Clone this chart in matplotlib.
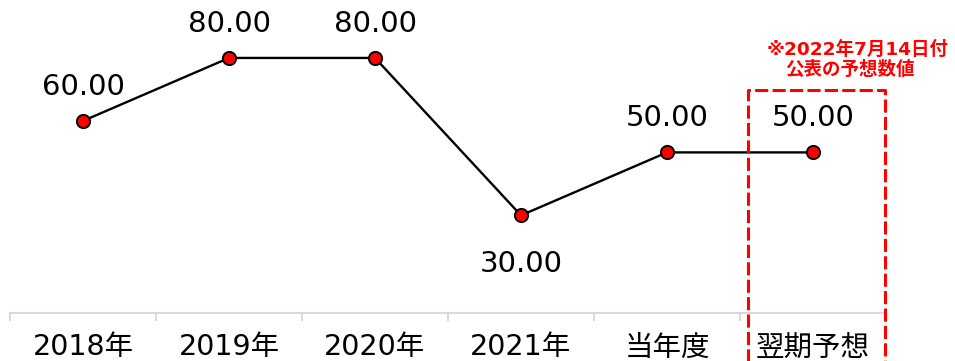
import matplotlib
matplotlib.use('Agg')
import matplotlib.pyplot as plt

# Dados do gráfico
categorias = ['2018年', '2019年', '2020年', '2021年', '当年度', '翌期予想']
valores = [60.00, 80.00, 80.00, 30.00, 50.00, 50.00]
# posição do rótulo: acima (1) ou abaixo (-1) do ponto
posicao_rotulo = [1, 1, 1, -1, 1, 1]
nota_linha1 = '※2022年7月14日付'
nota_linha2 = '公表の予想数値'

plt.rcParams['font.family'] = ['DejaVu Sans', 'Noto Sans CJK JP']

fig = plt.figure(figsize=(9.55, 3.61), dpi=100)
ax = fig.add_axes([10 / 955, 48 / 361, 876 / 955, 313 / 361])

x = list(range(len(categorias)))
ax.plot(x, valores, color='black', lw=1.7, marker='o', markersize=9.5,
        markerfacecolor='#ff0000', markeredgecolor='black', markeredgewidth=1.4, zorder=3)

# rótulos de valor
for xi, v, p in zip(x, valores, posicao_rotulo):
    dy = 18.7 if p > 0 else -41
    ax.annotate(f'{v:.2f}', (xi, v), xytext=(0, dy), textcoords='offset points',
                ha='center', va='baseline', fontsize=21, color='black')

ax.set_xlim(-0.5, len(categorias) - 0.5)
ax.set_ylim(-1, 98.4)

for s in ['top', 'right', 'left']:
    ax.spines[s].set_visible(False)
ax.spines['bottom'].set_color('#d9d9d9')
ax.spines['bottom'].set_linewidth(1.5)
ax.set_yticks([])

# rótulos das categorias
ax.set_xticks([])
for xi, c in zip(x, categorias):
    ax.annotate(c, (xi, 0), xycoords=('data', 'axes fraction'), xytext=(0, -30.5),
                textcoords='offset points', ha='center', va='baseline', fontsize=20.5)
ax.set_xticks([i - 0.5 for i in range(len(categorias) + 1)], minor=True)
ax.tick_params(axis='x', which='minor', length=6, width=1.5, color='#d9d9d9')

# caixa tracejada vermelha no último período
bx0, bx1, btop = 4.555, 5.493, 69.8
ax.plot([bx0, bx0, bx1, bx1], [-25, btop, btop, -25], color='#ff0000', lw=2.2,
        linestyle=(0, (4.3, 1.4)), clip_on=False, zorder=4)

ax.text(4.685, 82.7, nota_linha1, ha='left', va='center', fontsize=13.3,
        color='#ff0000', fontweight='bold')
ax.text(4.808, 76.2, nota_linha2, ha='left', va='center', fontsize=13.3,
        color='#ff0000', fontweight='bold')

fig.savefig('out.png', dpi=100)
